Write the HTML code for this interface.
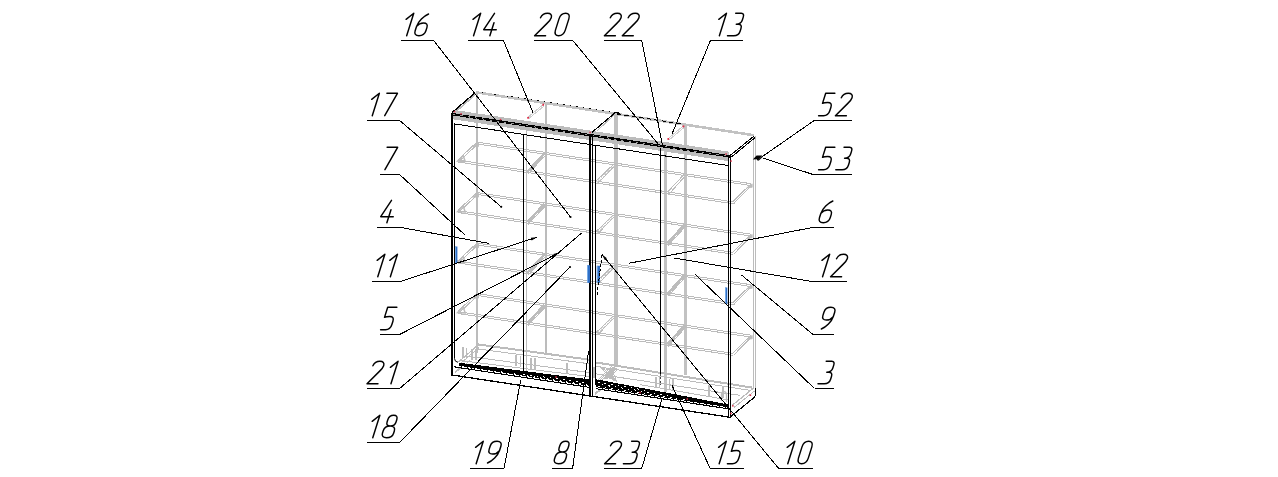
<!DOCTYPE html>
<html><head><meta charset="utf-8"><title>Assembly diagram</title>
<style>
html,body{margin:0;padding:0;background:#fff;font-family:"Liberation Sans",sans-serif;}
svg{display:block}
</style></head>
<body>
<svg width="1278" height="477" viewBox="0 0 1278 477">
<rect width="1278" height="477" fill="#fff"/>
<g stroke-linecap="butt" fill="none">
<line x1="476.00" y1="92.30" x2="754.00" y2="135.26" stroke="#c2c2c2" stroke-width="2.6" shape-rendering="crispEdges" />
<line x1="477.00" y1="92.50" x2="477.00" y2="353.00" stroke="#bcbcbc" stroke-width="2" shape-rendering="crispEdges" />
<line x1="546.00" y1="104.00" x2="546.00" y2="353.60" stroke="#bcbcbc" stroke-width="2" shape-rendering="crispEdges" />
<line x1="616.00" y1="112.60" x2="616.00" y2="367.00" stroke="#c0c0c0" stroke-width="4" shape-rendering="crispEdges" />
<line x1="665.50" y1="146.00" x2="665.50" y2="392.00" stroke="#c2c2c2" stroke-width="3" shape-rendering="crispEdges" />
<line x1="685.50" y1="125.50" x2="685.50" y2="375.00" stroke="#c2c2c2" stroke-width="3" shape-rendering="crispEdges" />
<line x1="753.50" y1="136.00" x2="753.50" y2="389.00" stroke="#bcbcbc" stroke-width="1" shape-rendering="crispEdges" />
<line x1="755.50" y1="136.00" x2="755.50" y2="389.00" stroke="#bcbcbc" stroke-width="1" shape-rendering="crispEdges" />
<line x1="526.50" y1="124.00" x2="526.50" y2="371.00" stroke="#bcbcbc" stroke-width="1" shape-rendering="crispEdges" />
<line x1="457.70" y1="160.03" x2="733.50" y2="201.95" stroke="#bcbcbc" stroke-width="1" shape-rendering="crispEdges" />
<line x1="476.90" y1="142.03" x2="751.20" y2="183.72" stroke="#bcbcbc" stroke-width="1" shape-rendering="crispEdges" />
<line x1="457.70" y1="161.93" x2="733.50" y2="203.85" stroke="#bcbcbc" stroke-width="1" shape-rendering="crispEdges" />
<line x1="476.90" y1="143.93" x2="751.20" y2="185.62" stroke="#bcbcbc" stroke-width="1" shape-rendering="crispEdges" />
<line x1="457.70" y1="160.03" x2="476.90" y2="142.03" stroke="#bcbcbc" stroke-width="1" shape-rendering="crispEdges" />
<line x1="459.50" y1="161.03" x2="477.90" y2="143.83" stroke="#bcbcbc" stroke-width="1" shape-rendering="crispEdges" />
<line x1="733.50" y1="203.85" x2="751.20" y2="185.62" stroke="#bcbcbc" stroke-width="1" shape-rendering="crispEdges" />
<line x1="731.70" y1="202.55" x2="750.60" y2="184.32" stroke="#bcbcbc" stroke-width="1" shape-rendering="crispEdges" />
<polygon points="457.7,161.0 463.2,155.6 465.2,161.4" fill="none" stroke="#bcbcbc" stroke-width="1.5"/>
<polygon points="472.4,146.6 478.4,142.8 478.4,146.6" fill="#bcbcbc" stroke="#bcbcbc" stroke-width="1"/>
<polygon points="746.7,187.9 752.2,183.9 752.2,187.3" fill="#bcbcbc" stroke="#bcbcbc" stroke-width="0.8"/>
<line x1="527.50" y1="171.64" x2="544.50" y2="153.50" stroke="#bcbcbc" stroke-width="2.6" shape-rendering="crispEdges" />
<line x1="528.00" y1="173.91" x2="545.00" y2="155.78" stroke="#bcbcbc" stroke-width="1" shape-rendering="crispEdges" />
<line x1="596.50" y1="180.63" x2="613.50" y2="164.39" stroke="#bcbcbc" stroke-width="1" shape-rendering="crispEdges" />
<line x1="597.50" y1="183.48" x2="614.00" y2="166.47" stroke="#bcbcbc" stroke-width="1" shape-rendering="crispEdges" />
<line x1="597.00" y1="182.10" x2="613.80" y2="165.44" stroke="#d6d6d6" stroke-width="1.6" shape-rendering="crispEdges" stroke-dasharray="1 1"/>
<line x1="667.50" y1="192.12" x2="684.00" y2="174.51" stroke="#bcbcbc" stroke-width="1" shape-rendering="crispEdges" />
<line x1="668.50" y1="194.67" x2="684.50" y2="176.78" stroke="#bcbcbc" stroke-width="1" shape-rendering="crispEdges" />
<line x1="457.70" y1="210.53" x2="733.50" y2="252.45" stroke="#bcbcbc" stroke-width="1" shape-rendering="crispEdges" />
<line x1="476.90" y1="192.53" x2="751.20" y2="234.22" stroke="#bcbcbc" stroke-width="1" shape-rendering="crispEdges" />
<line x1="457.70" y1="212.43" x2="733.50" y2="254.35" stroke="#bcbcbc" stroke-width="1" shape-rendering="crispEdges" />
<line x1="476.90" y1="194.43" x2="751.20" y2="236.12" stroke="#bcbcbc" stroke-width="1" shape-rendering="crispEdges" />
<line x1="457.70" y1="210.53" x2="476.90" y2="192.53" stroke="#bcbcbc" stroke-width="1" shape-rendering="crispEdges" />
<line x1="459.50" y1="211.53" x2="477.90" y2="194.33" stroke="#bcbcbc" stroke-width="1" shape-rendering="crispEdges" />
<line x1="733.50" y1="254.35" x2="751.20" y2="236.12" stroke="#bcbcbc" stroke-width="1" shape-rendering="crispEdges" />
<line x1="731.70" y1="253.05" x2="750.60" y2="234.82" stroke="#bcbcbc" stroke-width="1" shape-rendering="crispEdges" />
<polygon points="457.7,211.5 463.2,206.1 465.2,211.9" fill="none" stroke="#bcbcbc" stroke-width="1.5"/>
<polygon points="472.4,197.1 478.4,193.3 478.4,197.1" fill="#bcbcbc" stroke="#bcbcbc" stroke-width="1"/>
<polygon points="746.7,238.4 752.2,234.4 752.2,237.8" fill="#bcbcbc" stroke="#bcbcbc" stroke-width="0.8"/>
<line x1="527.50" y1="222.14" x2="544.50" y2="204.00" stroke="#bcbcbc" stroke-width="2.6" shape-rendering="crispEdges" />
<line x1="528.00" y1="224.41" x2="545.00" y2="206.28" stroke="#bcbcbc" stroke-width="1" shape-rendering="crispEdges" />
<line x1="596.50" y1="231.13" x2="613.50" y2="214.89" stroke="#bcbcbc" stroke-width="1" shape-rendering="crispEdges" />
<line x1="597.50" y1="233.98" x2="614.00" y2="216.97" stroke="#bcbcbc" stroke-width="1" shape-rendering="crispEdges" />
<line x1="597.00" y1="232.60" x2="613.80" y2="215.94" stroke="#d6d6d6" stroke-width="1.6" shape-rendering="crispEdges" stroke-dasharray="1 1"/>
<line x1="667.50" y1="243.42" x2="684.00" y2="225.21" stroke="#bcbcbc" stroke-width="2.6" shape-rendering="crispEdges" />
<line x1="668.00" y1="245.69" x2="684.50" y2="227.48" stroke="#bcbcbc" stroke-width="1" shape-rendering="crispEdges" />
<circle cx="684.5" cy="225.6" r="2" fill="#bcbcbc"/>
<circle cx="669" cy="243.6" r="1.6" fill="#bcbcbc"/>
<line x1="457.70" y1="261.03" x2="733.50" y2="302.95" stroke="#bcbcbc" stroke-width="1" shape-rendering="crispEdges" />
<line x1="476.90" y1="243.03" x2="751.20" y2="284.72" stroke="#bcbcbc" stroke-width="1" shape-rendering="crispEdges" />
<line x1="457.70" y1="262.93" x2="733.50" y2="304.85" stroke="#bcbcbc" stroke-width="1" shape-rendering="crispEdges" />
<line x1="476.90" y1="244.93" x2="751.20" y2="286.62" stroke="#bcbcbc" stroke-width="1" shape-rendering="crispEdges" />
<line x1="457.70" y1="261.03" x2="476.90" y2="243.03" stroke="#bcbcbc" stroke-width="1" shape-rendering="crispEdges" />
<line x1="459.50" y1="262.03" x2="477.90" y2="244.83" stroke="#bcbcbc" stroke-width="1" shape-rendering="crispEdges" />
<line x1="733.50" y1="304.85" x2="751.20" y2="286.62" stroke="#bcbcbc" stroke-width="1" shape-rendering="crispEdges" />
<line x1="731.70" y1="303.55" x2="750.60" y2="285.32" stroke="#bcbcbc" stroke-width="1" shape-rendering="crispEdges" />
<polygon points="457.7,262.0 463.2,256.6 465.2,262.4" fill="none" stroke="#bcbcbc" stroke-width="1.5"/>
<polygon points="472.4,247.6 478.4,243.8 478.4,247.6" fill="#bcbcbc" stroke="#bcbcbc" stroke-width="1"/>
<polygon points="746.7,288.9 752.2,284.9 752.2,288.3" fill="#bcbcbc" stroke="#bcbcbc" stroke-width="0.8"/>
<line x1="527.50" y1="272.64" x2="544.50" y2="254.50" stroke="#bcbcbc" stroke-width="2.6" shape-rendering="crispEdges" />
<line x1="528.00" y1="274.91" x2="545.00" y2="256.78" stroke="#bcbcbc" stroke-width="1" shape-rendering="crispEdges" />
<line x1="596.50" y1="281.63" x2="613.50" y2="265.39" stroke="#bcbcbc" stroke-width="1" shape-rendering="crispEdges" />
<line x1="597.50" y1="284.48" x2="614.00" y2="267.47" stroke="#bcbcbc" stroke-width="1" shape-rendering="crispEdges" />
<line x1="597.00" y1="283.10" x2="613.80" y2="266.44" stroke="#d6d6d6" stroke-width="1.6" shape-rendering="crispEdges" stroke-dasharray="1 1"/>
<line x1="667.50" y1="293.92" x2="684.00" y2="275.71" stroke="#bcbcbc" stroke-width="2.6" shape-rendering="crispEdges" />
<line x1="668.00" y1="296.19" x2="684.50" y2="277.98" stroke="#bcbcbc" stroke-width="1" shape-rendering="crispEdges" />
<circle cx="684.5" cy="276.1" r="2" fill="#bcbcbc"/>
<circle cx="669" cy="294.1" r="1.6" fill="#bcbcbc"/>
<line x1="457.70" y1="311.53" x2="733.50" y2="353.45" stroke="#bcbcbc" stroke-width="1" shape-rendering="crispEdges" />
<line x1="476.90" y1="293.53" x2="751.20" y2="335.22" stroke="#bcbcbc" stroke-width="1" shape-rendering="crispEdges" />
<line x1="457.70" y1="313.43" x2="733.50" y2="355.35" stroke="#bcbcbc" stroke-width="1" shape-rendering="crispEdges" />
<line x1="476.90" y1="295.43" x2="751.20" y2="337.12" stroke="#bcbcbc" stroke-width="1" shape-rendering="crispEdges" />
<line x1="457.70" y1="311.53" x2="476.90" y2="293.53" stroke="#bcbcbc" stroke-width="1" shape-rendering="crispEdges" />
<line x1="459.50" y1="312.53" x2="477.90" y2="295.33" stroke="#bcbcbc" stroke-width="1" shape-rendering="crispEdges" />
<line x1="733.50" y1="355.35" x2="751.20" y2="337.12" stroke="#bcbcbc" stroke-width="1" shape-rendering="crispEdges" />
<line x1="731.70" y1="354.05" x2="750.60" y2="335.82" stroke="#bcbcbc" stroke-width="1" shape-rendering="crispEdges" />
<polygon points="457.7,312.5 463.2,307.1 465.2,312.9" fill="none" stroke="#bcbcbc" stroke-width="1.5"/>
<polygon points="472.4,298.1 478.4,294.3 478.4,298.1" fill="#bcbcbc" stroke="#bcbcbc" stroke-width="1"/>
<polygon points="746.7,339.4 752.2,335.4 752.2,338.8" fill="#bcbcbc" stroke="#bcbcbc" stroke-width="0.8"/>
<line x1="527.50" y1="323.14" x2="544.50" y2="305.00" stroke="#bcbcbc" stroke-width="2.6" shape-rendering="crispEdges" />
<line x1="528.00" y1="325.41" x2="545.00" y2="307.28" stroke="#bcbcbc" stroke-width="1" shape-rendering="crispEdges" />
<line x1="596.50" y1="332.13" x2="613.50" y2="315.89" stroke="#bcbcbc" stroke-width="1" shape-rendering="crispEdges" />
<line x1="597.50" y1="334.98" x2="614.00" y2="317.97" stroke="#bcbcbc" stroke-width="1" shape-rendering="crispEdges" />
<line x1="597.00" y1="333.60" x2="613.80" y2="316.94" stroke="#d6d6d6" stroke-width="1.6" shape-rendering="crispEdges" stroke-dasharray="1 1"/>
<line x1="667.50" y1="344.42" x2="684.00" y2="326.21" stroke="#bcbcbc" stroke-width="2.6" shape-rendering="crispEdges" />
<line x1="668.00" y1="346.69" x2="684.50" y2="328.48" stroke="#bcbcbc" stroke-width="1" shape-rendering="crispEdges" />
<circle cx="684.5" cy="326.6" r="2" fill="#bcbcbc"/>
<circle cx="669" cy="344.6" r="1.6" fill="#bcbcbc"/>
<line x1="528.00" y1="117.20" x2="543.10" y2="104.70" stroke="#cfcfcf" stroke-width="1" shape-rendering="crispEdges" />
<line x1="529.00" y1="118.40" x2="544.00" y2="106.00" stroke="#cfcfcf" stroke-width="1" shape-rendering="crispEdges" />
<line x1="668.20" y1="138.50" x2="683.30" y2="126.00" stroke="#cfcfcf" stroke-width="1" shape-rendering="crispEdges" />
<line x1="669.20" y1="139.80" x2="684.20" y2="127.40" stroke="#cfcfcf" stroke-width="1" shape-rendering="crispEdges" />
<line x1="597.00" y1="131.00" x2="614.00" y2="115.00" stroke="#bcbcbc" stroke-width="1" shape-rendering="crispEdges" />
<line x1="453.50" y1="113.60" x2="476.00" y2="94.00" stroke="#bcbcbc" stroke-width="1.6" shape-rendering="crispEdges" />
<line x1="477.00" y1="344.30" x2="589.00" y2="359.66" stroke="#bcbcbc" stroke-width="2" shape-rendering="crispEdges" />
<line x1="596.00" y1="362.46" x2="752.00" y2="387.58" stroke="#bcbcbc" stroke-width="2" shape-rendering="crispEdges" />
<line x1="478.00" y1="349.00" x2="589.00" y2="363.73" stroke="#bcbcbc" stroke-width="1" shape-rendering="crispEdges" />
<line x1="596.00" y1="366.40" x2="750.00" y2="390.39" stroke="#bcbcbc" stroke-width="1" shape-rendering="crispEdges" />
<line x1="466.00" y1="356.06" x2="589.00" y2="372.54" stroke="#bcbcbc" stroke-width="1" shape-rendering="crispEdges" />
<line x1="596.00" y1="373.90" x2="740.00" y2="395.36" stroke="#bcbcbc" stroke-width="1" shape-rendering="crispEdges" />
<line x1="459.00" y1="360.43" x2="589.00" y2="376.53" stroke="#bcbcbc" stroke-width="1" shape-rendering="crispEdges" />
<line x1="640.00" y1="384.60" x2="728.00" y2="399.85" stroke="#bcbcbc" stroke-width="1" shape-rendering="crispEdges" />
<line x1="458.50" y1="362.00" x2="477.00" y2="346.00" stroke="#bcbcbc" stroke-width="1.2" shape-rendering="crispEdges" />
<line x1="460.50" y1="363.50" x2="479.00" y2="347.50" stroke="#bcbcbc" stroke-width="1" shape-rendering="crispEdges" />
<line x1="455.00" y1="372.00" x2="462.00" y2="366.00" stroke="#bcbcbc" stroke-width="1.2" shape-rendering="crispEdges" />
<line x1="732.00" y1="405.50" x2="753.00" y2="388.50" stroke="#bcbcbc" stroke-width="1.2" shape-rendering="crispEdges" />
<line x1="734.00" y1="407.50" x2="754.50" y2="391.00" stroke="#bcbcbc" stroke-width="1" shape-rendering="crispEdges" />
<line x1="463.00" y1="347.28" x2="463.00" y2="358.28" stroke="#bcbcbc" stroke-width="1.4" shape-rendering="crispEdges" />
<line x1="466.50" y1="347.81" x2="466.50" y2="358.81" stroke="#bcbcbc" stroke-width="1.4" shape-rendering="crispEdges" />
<line x1="472.00" y1="348.64" x2="472.00" y2="359.64" stroke="#bcbcbc" stroke-width="1.4" shape-rendering="crispEdges" />
<line x1="476.00" y1="349.25" x2="476.00" y2="360.25" stroke="#bcbcbc" stroke-width="1.4" shape-rendering="crispEdges" />
<line x1="516.00" y1="355.33" x2="516.00" y2="366.33" stroke="#bcbcbc" stroke-width="1.4" shape-rendering="crispEdges" />
<line x1="520.50" y1="356.02" x2="520.50" y2="367.02" stroke="#bcbcbc" stroke-width="1.4" shape-rendering="crispEdges" />
<line x1="531.00" y1="357.61" x2="531.00" y2="368.61" stroke="#bcbcbc" stroke-width="1.4" shape-rendering="crispEdges" />
<line x1="535.00" y1="358.22" x2="535.00" y2="369.22" stroke="#bcbcbc" stroke-width="1.4" shape-rendering="crispEdges" />
<line x1="567.00" y1="363.08" x2="567.00" y2="374.08" stroke="#bcbcbc" stroke-width="1.4" shape-rendering="crispEdges" />
<line x1="594.00" y1="367.19" x2="594.00" y2="378.19" stroke="#bcbcbc" stroke-width="1.4" shape-rendering="crispEdges" />
<line x1="656.00" y1="376.61" x2="656.00" y2="387.61" stroke="#bcbcbc" stroke-width="1.4" shape-rendering="crispEdges" />
<line x1="659.50" y1="377.14" x2="659.50" y2="388.14" stroke="#bcbcbc" stroke-width="1.4" shape-rendering="crispEdges" />
<line x1="669.50" y1="378.66" x2="669.50" y2="389.66" stroke="#bcbcbc" stroke-width="1.4" shape-rendering="crispEdges" />
<line x1="673.00" y1="379.20" x2="673.00" y2="390.20" stroke="#bcbcbc" stroke-width="1.4" shape-rendering="crispEdges" />
<line x1="709.00" y1="384.67" x2="709.00" y2="395.67" stroke="#bcbcbc" stroke-width="1.4" shape-rendering="crispEdges" />
<line x1="723.00" y1="386.80" x2="723.00" y2="397.80" stroke="#bcbcbc" stroke-width="1.4" shape-rendering="crispEdges" />
<line x1="598.00" y1="380.00" x2="612.00" y2="366.00" stroke="#bcbcbc" stroke-width="1" shape-rendering="crispEdges" />
<line x1="600.20" y1="379.70" x2="613.20" y2="366.60" stroke="#bcbcbc" stroke-width="1" shape-rendering="crispEdges" />
<line x1="602.40" y1="379.40" x2="614.40" y2="367.20" stroke="#bcbcbc" stroke-width="1" shape-rendering="crispEdges" />
<line x1="604.60" y1="379.10" x2="615.60" y2="367.80" stroke="#bcbcbc" stroke-width="1" shape-rendering="crispEdges" />
<line x1="606.80" y1="378.80" x2="616.80" y2="368.40" stroke="#bcbcbc" stroke-width="1" shape-rendering="crispEdges" />
<line x1="609.00" y1="378.50" x2="618.00" y2="369.00" stroke="#bcbcbc" stroke-width="1" shape-rendering="crispEdges" />
<line x1="600.00" y1="366.00" x2="611.00" y2="379.00" stroke="#bcbcbc" stroke-width="1" shape-rendering="crispEdges" />
<line x1="603.00" y1="367.00" x2="612.50" y2="379.80" stroke="#bcbcbc" stroke-width="1" shape-rendering="crispEdges" />
<line x1="606.00" y1="368.00" x2="614.00" y2="380.60" stroke="#bcbcbc" stroke-width="1" shape-rendering="crispEdges" />
<line x1="609.00" y1="369.00" x2="615.50" y2="381.40" stroke="#bcbcbc" stroke-width="1" shape-rendering="crispEdges" />
<line x1="612.00" y1="370.00" x2="617.00" y2="382.20" stroke="#bcbcbc" stroke-width="1" shape-rendering="crispEdges" />
<path d="M721.4,401 L721.4,395 C721.4,390.5 726.5,390.5 726.5,395 L726.5,402" stroke="#bcbcbc" stroke-width="1.3" fill="none"/>
<line x1="595.00" y1="394.00" x2="606.00" y2="385.00" stroke="#bcbcbc" stroke-width="2" shape-rendering="crispEdges" />
<line x1="455.50" y1="372.50" x2="470.00" y2="360.50" stroke="#bcbcbc" stroke-width="1" shape-rendering="crispEdges" />
</g>
<polygon shape-rendering="crispEdges" points="452.5,109.63 729,151.65 729,161.25 452.5,119.23" fill="#bcbcbc"/>
<g stroke-linecap="butt" fill="none">
<line x1="451.00" y1="114.00" x2="730.00" y2="156.41" stroke="#000" stroke-width="2.4" shape-rendering="crispEdges" />
<line x1="453.00" y1="114.50" x2="729.00" y2="156.45" stroke="#9a9a9a" stroke-width="1" shape-rendering="crispEdges" stroke-dasharray="2.2 5.2"/>
<line x1="454.00" y1="123.85" x2="728.60" y2="165.59" stroke="#000" stroke-width="1" shape-rendering="crispEdges" />
<line x1="482.00" y1="92.31" x2="508.00" y2="96.26" stroke="#000" stroke-width="1" shape-rendering="crispEdges" stroke-dasharray="1.5 11"/>
<line x1="511.00" y1="96.72" x2="614.00" y2="112.58" stroke="#000" stroke-width="1" shape-rendering="crispEdges" stroke-dasharray="1.5 5.1"/>
<line x1="617.00" y1="114.03" x2="684.00" y2="124.22" stroke="#000" stroke-width="1" shape-rendering="crispEdges" stroke-dasharray="4.5 3"/>
<line x1="452.00" y1="112.60" x2="475.40" y2="92.60" stroke="#000" stroke-width="1.3" shape-rendering="crispEdges" />
<line x1="591.60" y1="132.60" x2="615.30" y2="112.60" stroke="#000" stroke-width="1.2" shape-rendering="crispEdges" />
<line x1="615.00" y1="112.60" x2="620.00" y2="113.30" stroke="#000" stroke-width="1.2" shape-rendering="crispEdges" />
<line x1="730.00" y1="155.60" x2="754.20" y2="135.90" stroke="#000" stroke-width="1.1" shape-rendering="crispEdges" />
<line x1="731.40" y1="157.00" x2="755.00" y2="137.60" stroke="#000" stroke-width="1.1" shape-rendering="crispEdges" />
<line x1="452.00" y1="112.60" x2="452.00" y2="376.00" stroke="#000" stroke-width="2" shape-rendering="crispEdges" />
<path d="M454.5,123.5 L454.5,358.5 Q454.5,361.8 458,362.3" stroke="#000" stroke-width="1"/>
<line x1="590.00" y1="133.50" x2="590.00" y2="397.00" stroke="#000" stroke-width="2" shape-rendering="crispEdges" />
<line x1="592.50" y1="134.00" x2="592.50" y2="397.00" stroke="#000" stroke-width="1" shape-rendering="crispEdges" />
<line x1="595.50" y1="144.60" x2="595.50" y2="385.00" stroke="#000" stroke-width="1" shape-rendering="crispEdges" />
<line x1="728.50" y1="156.00" x2="728.50" y2="418.00" stroke="#000" stroke-width="1" shape-rendering="crispEdges" />
<line x1="730.50" y1="156.30" x2="730.50" y2="418.30" stroke="#000" stroke-width="1" shape-rendering="crispEdges" />
<line x1="523.50" y1="134.52" x2="523.50" y2="371.00" stroke="#000" stroke-width="1" shape-rendering="crispEdges" />
<line x1="660.50" y1="147.84" x2="660.50" y2="373.50" stroke="#000" stroke-width="1" shape-rendering="crispEdges" />
<line x1="660.50" y1="373.50" x2="660.50" y2="385.00" stroke="#444" stroke-width="1" shape-rendering="crispEdges" stroke-dasharray="2 1.5"/>
<line x1="451.00" y1="374.85" x2="731.00" y2="417.41" stroke="#000" stroke-width="1.3" shape-rendering="crispEdges" />
<line x1="731.20" y1="416.20" x2="755.40" y2="396.40" stroke="#000" stroke-width="1.2" shape-rendering="crispEdges" />
<line x1="755.40" y1="396.40" x2="755.40" y2="388.00" stroke="#000" stroke-width="1.2" shape-rendering="crispEdges" />
<polygon shape-rendering="crispEdges" points="458.5,362.63 589,379.33 589,387.89 454,367.37 454,366.17 458.5,366.65" fill="#000"/>
<polygon shape-rendering="crispEdges" points="596,379.22 727.7,404.37 727.7,409.27 596,389.25" fill="#000"/>
<line x1="455.00" y1="365.92" x2="589.00" y2="386.29" stroke="#fff" stroke-width="1" shape-rendering="crispEdges" stroke-dasharray="5.6 1"/>
<line x1="462.00" y1="365.98" x2="589.00" y2="385.29" stroke="#fff" stroke-width="1" shape-rendering="crispEdges" stroke-dasharray="1.8 4.8"/>
<line x1="520.00" y1="373.50" x2="589.00" y2="383.49" stroke="#fff" stroke-width="1" shape-rendering="crispEdges" stroke-dasharray="1.8 4.8" stroke-dashoffset="3"/>
<line x1="596.00" y1="387.65" x2="727.00" y2="407.56" stroke="#fff" stroke-width="1" shape-rendering="crispEdges" stroke-dasharray="5.6 1"/>
<line x1="598.00" y1="386.56" x2="688.00" y2="400.24" stroke="#fff" stroke-width="1" shape-rendering="crispEdges" stroke-dasharray="1.8 4.8"/>
<line x1="598.00" y1="384.16" x2="672.00" y2="396.00" stroke="#fff" stroke-width="1" shape-rendering="crispEdges" stroke-dasharray="1.8 4.8" stroke-dashoffset="3"/>
<line x1="598.00" y1="382.36" x2="650.00" y2="391.06" stroke="#fff" stroke-width="1" shape-rendering="crispEdges" stroke-dasharray="1.8 4.8"/>
</g>
<rect x="455" y="246.5" width="2.4" height="16.5" fill="#2f6fc6"/>
<rect x="455" y="246.5" width="0.9" height="16.5" fill="#7db0ea"/>
<rect x="587.0" y="265.2" width="3.0" height="17.6" fill="#2f6fc6"/>
<rect x="587.0" y="265.2" width="0.9" height="17.6" fill="#7db0ea"/>
<rect x="596.8" y="265.8" width="3.2" height="17.0" fill="#2f6fc6"/>
<rect x="596.8" y="265.8" width="0.9" height="17.0" fill="#7db0ea"/>
<rect x="725.0" y="287.5" width="2.3" height="16.5" fill="#2f6fc6"/>
<rect x="725.0" y="287.5" width="0.9" height="16.5" fill="#7db0ea"/>
<line x1="602.00" y1="255.00" x2="597.00" y2="295.00" stroke="#000" stroke-width="1.0" shape-rendering="crispEdges" stroke-dasharray="3 1.6"/>
<path d="M752.8,159.4 L756.6,155.4 L762.4,155.4 L759.0,159.2 L757.8,160.8 L756.6,159.2 Z" fill="#000"/>
<path d="M758.2,160.4 L762.2,156.6" stroke="#000" stroke-width="1.2"/>
<rect x="542.6" y="103.7" width="1.5" height="1.5" fill="#e0304a"/>
<rect x="527.5" y="116.9" width="1.5" height="1.5" fill="#e0304a"/>
<rect x="682.8" y="125.5" width="1.5" height="1.5" fill="#e0304a"/>
<rect x="667.7" y="138.1" width="1.5" height="1.5" fill="#e0304a"/>
<rect x="686.5" y="398.3" width="1.5" height="1.5" fill="#e0304a"/>
<rect x="453.8" y="110.9" width="1.5" height="1.5" fill="#e0304a"/>
<rect x="460.3" y="113.1" width="1.5" height="1.5" fill="#e0304a"/>
<rect x="499.8" y="118.8" width="1.5" height="1.5" fill="#e0304a"/>
<rect x="527.3" y="117.1" width="1.5" height="1.5" fill="#e0304a"/>
<rect x="542.4" y="104.3" width="1.5" height="1.5" fill="#e0304a"/>
<rect x="589.3" y="131.7" width="1.5" height="1.5" fill="#e0304a"/>
<rect x="667.5" y="138.3" width="1.5" height="1.5" fill="#e0304a"/>
<rect x="682.6" y="125.9" width="1.5" height="1.5" fill="#e0304a"/>
<rect x="725.3" y="153.3" width="1.5" height="1.5" fill="#e0304a"/>
<rect x="730.3" y="160.3" width="1.5" height="1.5" fill="#e0304a"/>
<rect x="749.7" y="394.5" width="1.5" height="1.5" fill="#e0304a"/>
<rect x="732.1" y="405.1" width="1.5" height="1.5" fill="#e0304a"/>
<rect x="730.2" y="412.7" width="1.5" height="1.5" fill="#e0304a"/>
<rect x="639.3" y="391.8" width="1.5" height="1.5" fill="#e0304a"/>
<rect x="555.3" y="376.3" width="1.5" height="1.5" fill="#e0304a"/>
<path d="M406.08,19.35 L413.76,13.30 L406.66,35.70" fill="none" stroke="#000" stroke-width="1.45" stroke-linecap="round" stroke-linejoin="round"/>
<path d="M428.55,13.97 C423.88,15.99 418.22,21.14 416.44,26.74 L415.16,30.77 C414.17,33.91 415.39,35.70 418.98,35.70 C422.56,35.70 424.92,33.91 425.91,30.77 L426.91,27.64 C427.90,24.50 426.61,22.93 423.47,22.93 C420.78,22.93 418.41,24.05 416.58,26.29" fill="none" stroke="#000" stroke-width="1.45" stroke-linecap="round" stroke-linejoin="round"/>
<line x1="401.20" y1="40.50" x2="433.70" y2="40.50" stroke="#000" stroke-width="1" shape-rendering="crispEdges" />
<polyline points="433.70,40.50 570.50,217.00" stroke="#000" stroke-width="1.0" fill="none" shape-rendering="crispEdges" />
<circle cx="570.50" cy="217.00" r="1.1" fill="#000"/>
<path d="M472.98,19.35 L480.66,13.30 L473.56,35.70" fill="none" stroke="#000" stroke-width="1.45" stroke-linecap="round" stroke-linejoin="round"/>
<path d="M494.50,13.30 L483.72,29.65 L496.26,29.65 M493.98,22.71 L489.86,35.70" fill="none" stroke="#000" stroke-width="1.45" stroke-linecap="round" stroke-linejoin="round"/>
<line x1="468.20" y1="40.50" x2="503.50" y2="40.50" stroke="#000" stroke-width="1" shape-rendering="crispEdges" />
<polyline points="503.50,40.50 533.00,112.70" stroke="#000" stroke-width="1.0" fill="none" shape-rendering="crispEdges" />
<path d="M540.50,17.78 C541.95,14.64 544.39,13.30 547.52,13.30 C550.66,13.30 552.18,14.87 551.26,17.78 C550.55,20.02 549.22,21.36 547.02,23.38 L534.60,35.70 L545.58,35.70" fill="none" stroke="#000" stroke-width="1.45" stroke-linecap="round" stroke-linejoin="round"/>
<path d="M559.00,18.90 C560.20,15.09 562.79,13.30 565.70,13.30 C568.61,13.30 570.06,15.09 568.85,18.90 L565.30,30.10 C564.10,33.91 561.51,35.70 558.60,35.70 C555.69,35.70 554.24,33.91 555.45,30.10 Z" fill="none" stroke="#000" stroke-width="1.45" stroke-linecap="round" stroke-linejoin="round"/>
<line x1="534.10" y1="40.50" x2="572.80" y2="40.50" stroke="#000" stroke-width="1" shape-rendering="crispEdges" />
<polyline points="572.80,40.50 659.20,145.20" stroke="#000" stroke-width="1.0" fill="none" shape-rendering="crispEdges" />
<path d="M610.30,17.78 C611.75,14.64 614.19,13.30 617.32,13.30 C620.46,13.30 621.98,14.87 621.06,17.78 C620.35,20.02 619.02,21.36 616.82,23.38 L604.40,35.70 L615.38,35.70" fill="none" stroke="#000" stroke-width="1.45" stroke-linecap="round" stroke-linejoin="round"/>
<path d="M628.20,17.78 C629.65,14.64 632.09,13.30 635.22,13.30 C638.36,13.30 639.88,14.87 638.96,17.78 C638.25,20.02 636.92,21.36 634.72,23.38 L622.30,35.70 L633.28,35.70" fill="none" stroke="#000" stroke-width="1.45" stroke-linecap="round" stroke-linejoin="round"/>
<line x1="604.20" y1="40.50" x2="641.70" y2="40.50" stroke="#000" stroke-width="1" shape-rendering="crispEdges" />
<polyline points="641.70,40.50 662.60,145.60" stroke="#000" stroke-width="1.0" fill="none" shape-rendering="crispEdges" />
<path d="M718.78,19.35 L726.46,13.30 L719.36,35.70" fill="none" stroke="#000" stroke-width="1.45" stroke-linecap="round" stroke-linejoin="round"/>
<path d="M735.72,13.30 L741.32,13.30 C743.56,13.30 743.96,14.87 743.25,17.11 L742.33,20.02 C741.47,22.71 739.63,24.28 736.27,24.28 L738.29,24.28 C740.98,24.28 741.82,25.84 740.97,28.53 L740.12,31.22 C739.20,34.13 736.91,35.70 733.77,35.70 L727.50,35.70" fill="none" stroke="#000" stroke-width="1.45" stroke-linecap="round" stroke-linejoin="round"/>
<line x1="710.40" y1="40.50" x2="742.90" y2="40.50" stroke="#000" stroke-width="1" shape-rendering="crispEdges" />
<polyline points="710.40,40.50 672.00,134.00" stroke="#000" stroke-width="1.0" fill="none" shape-rendering="crispEdges" />
<path d="M371.68,99.35 L379.36,93.30 L372.26,115.70" fill="none" stroke="#000" stroke-width="1.45" stroke-linecap="round" stroke-linejoin="round"/>
<path d="M386.90,93.30 L397.43,93.30 L384.73,115.70" fill="none" stroke="#000" stroke-width="1.45" stroke-linecap="round" stroke-linejoin="round"/>
<line x1="367.10" y1="120.50" x2="399.60" y2="120.50" stroke="#000" stroke-width="1" shape-rendering="crispEdges" />
<polyline points="399.60,120.50 501.20,206.80" stroke="#000" stroke-width="1.0" fill="none" shape-rendering="crispEdges" />
<circle cx="501.20" cy="206.80" r="1.1" fill="#000"/>
<path d="M387.10,147.30 L397.63,147.30 L384.93,169.70" fill="none" stroke="#000" stroke-width="1.45" stroke-linecap="round" stroke-linejoin="round"/>
<line x1="380.20" y1="174.50" x2="399.60" y2="174.50" stroke="#000" stroke-width="1" shape-rendering="crispEdges" />
<polyline points="399.60,174.50 464.50,234.60" stroke="#000" stroke-width="1.0" fill="none" shape-rendering="crispEdges" />
<path d="M391.50,200.30 L380.72,216.65 L393.26,216.65 M390.98,209.71 L386.86,222.70" fill="none" stroke="#000" stroke-width="1.45" stroke-linecap="round" stroke-linejoin="round"/>
<line x1="377.00" y1="227.50" x2="401.00" y2="227.50" stroke="#000" stroke-width="1" shape-rendering="crispEdges" />
<polyline points="401.00,227.50 489.00,243.40" stroke="#000" stroke-width="1.0" fill="none" shape-rendering="crispEdges" />
<path d="M377.18,260.35 L384.86,254.30 L377.76,276.70" fill="none" stroke="#000" stroke-width="1.45" stroke-linecap="round" stroke-linejoin="round"/>
<path d="M389.78,260.35 L397.46,254.30 L390.36,276.70" fill="none" stroke="#000" stroke-width="1.45" stroke-linecap="round" stroke-linejoin="round"/>
<line x1="372.00" y1="281.50" x2="400.20" y2="281.50" stroke="#000" stroke-width="1" shape-rendering="crispEdges" />
<polyline points="400.20,281.50 536.80,237.30" stroke="#000" stroke-width="1.0" fill="none" shape-rendering="crispEdges" />
<polygon points="536.80,237.30 531.69,240.45 530.82,237.74" fill="#000"/>
<path d="M396.88,307.30 L387.70,307.30 L384.51,317.38 C385.84,316.71 387.48,316.48 389.72,316.48 C392.85,316.48 393.92,318.05 392.93,321.19 L391.79,324.77 C390.80,327.91 388.66,329.70 385.53,329.70 L380.60,329.70" fill="none" stroke="#000" stroke-width="1.45" stroke-linecap="round" stroke-linejoin="round"/>
<line x1="380.00" y1="334.50" x2="399.60" y2="334.50" stroke="#000" stroke-width="1" shape-rendering="crispEdges" />
<polyline points="399.60,334.50 559.20,252.60" stroke="#000" stroke-width="1.0" fill="none" shape-rendering="crispEdges" />
<polygon points="559.20,252.60 554.67,256.53 553.36,253.99" fill="#000"/>
<path d="M372.90,365.78 C374.35,362.64 376.79,361.30 379.92,361.30 C383.06,361.30 384.58,362.87 383.66,365.78 C382.95,368.02 381.62,369.36 379.42,371.38 L367.00,383.70 L377.98,383.70" fill="none" stroke="#000" stroke-width="1.45" stroke-linecap="round" stroke-linejoin="round"/>
<path d="M390.38,367.35 L398.06,361.30 L390.96,383.70" fill="none" stroke="#000" stroke-width="1.45" stroke-linecap="round" stroke-linejoin="round"/>
<line x1="367.00" y1="388.50" x2="399.60" y2="388.50" stroke="#000" stroke-width="1" shape-rendering="crispEdges" />
<polyline points="399.60,388.50 581.80,232.90" stroke="#000" stroke-width="1.0" fill="none" shape-rendering="crispEdges" />
<path d="M372.18,421.35 L379.86,415.30 L372.76,437.70" fill="none" stroke="#000" stroke-width="1.45" stroke-linecap="round" stroke-linejoin="round"/>
<path d="M390.29,426.05 C387.38,426.05 386.24,424.71 387.09,422.02 L387.80,419.78 C388.72,416.87 390.79,415.30 393.70,415.30 C396.61,415.30 397.68,416.87 396.76,419.78 L396.05,422.02 C395.20,424.71 393.20,426.05 390.29,426.05 C386.93,426.05 384.12,427.84 383.13,430.98 L382.42,433.22 C381.50,436.13 383.24,437.70 386.60,437.70 C389.96,437.70 392.70,436.13 393.62,433.22 L394.33,430.98 C395.32,427.84 393.65,426.05 390.29,426.05" fill="none" stroke="#000" stroke-width="1.45" stroke-linecap="round" stroke-linejoin="round"/>
<line x1="367.00" y1="442.50" x2="399.60" y2="442.50" stroke="#000" stroke-width="1" shape-rendering="crispEdges" />
<polyline points="399.60,442.50 570.00,267.00" stroke="#000" stroke-width="1.0" fill="none" shape-rendering="crispEdges" />
<circle cx="570.00" cy="267.00" r="1.1" fill="#000"/>
<path d="M475.58,447.35 L483.26,441.30 L476.16,463.70" fill="none" stroke="#000" stroke-width="1.45" stroke-linecap="round" stroke-linejoin="round"/>
<path d="M499.47,450.71 C497.64,452.95 495.27,454.07 492.58,454.07 C489.45,454.07 488.15,452.50 489.14,449.36 L490.14,446.23 C491.13,443.09 493.49,441.30 497.08,441.30 C500.66,441.30 501.88,443.09 500.89,446.23 L499.61,450.26 C497.84,455.86 492.17,461.01 487.50,463.03" fill="none" stroke="#000" stroke-width="1.45" stroke-linecap="round" stroke-linejoin="round"/>
<line x1="470.20" y1="468.50" x2="504.00" y2="468.50" stroke="#000" stroke-width="1" shape-rendering="crispEdges" />
<polyline points="504.00,468.50 520.80,379.80" stroke="#000" stroke-width="1.0" fill="none" shape-rendering="crispEdges" />
<path d="M562.29,452.05 C559.38,452.05 558.24,450.71 559.09,448.02 L559.80,445.78 C560.72,442.87 562.79,441.30 565.70,441.30 C568.61,441.30 569.68,442.87 568.76,445.78 L568.05,448.02 C567.20,450.71 565.20,452.05 562.29,452.05 C558.93,452.05 556.12,453.84 555.13,456.98 L554.42,459.22 C553.50,462.13 555.24,463.70 558.60,463.70 C561.96,463.70 564.70,462.13 565.62,459.22 L566.33,456.98 C567.32,453.84 565.65,452.05 562.29,452.05" fill="none" stroke="#000" stroke-width="1.45" stroke-linecap="round" stroke-linejoin="round"/>
<line x1="552.30" y1="468.50" x2="572.60" y2="468.50" stroke="#000" stroke-width="1" shape-rendering="crispEdges" />
<polyline points="572.60,468.50 588.60,351.00" stroke="#000" stroke-width="1.0" fill="none" shape-rendering="crispEdges" />
<path d="M610.50,445.78 C611.95,442.64 614.39,441.30 617.52,441.30 C620.66,441.30 622.18,442.87 621.26,445.78 C620.55,448.02 619.22,449.36 617.02,451.38 L604.60,463.70 L615.58,463.70" fill="none" stroke="#000" stroke-width="1.45" stroke-linecap="round" stroke-linejoin="round"/>
<path d="M631.62,441.30 L637.22,441.30 C639.46,441.30 639.86,442.87 639.15,445.11 L638.23,448.02 C637.37,450.71 635.53,452.28 632.17,452.28 L634.19,452.28 C636.88,452.28 637.72,453.84 636.87,456.53 L636.02,459.22 C635.10,462.13 632.81,463.70 629.67,463.70 L623.40,463.70" fill="none" stroke="#000" stroke-width="1.45" stroke-linecap="round" stroke-linejoin="round"/>
<line x1="604.20" y1="468.50" x2="641.70" y2="468.50" stroke="#000" stroke-width="1" shape-rendering="crispEdges" />
<polyline points="641.70,468.50 662.20,398.00" stroke="#000" stroke-width="1.0" fill="none" shape-rendering="crispEdges" />
<path d="M718.58,447.35 L726.26,441.30 L719.16,463.70" fill="none" stroke="#000" stroke-width="1.45" stroke-linecap="round" stroke-linejoin="round"/>
<path d="M743.68,441.30 L734.50,441.30 L731.31,451.38 C732.64,450.71 734.28,450.48 736.52,450.48 C739.65,450.48 740.72,452.05 739.73,455.19 L738.59,458.77 C737.60,461.91 735.46,463.70 732.33,463.70 L727.40,463.70" fill="none" stroke="#000" stroke-width="1.45" stroke-linecap="round" stroke-linejoin="round"/>
<line x1="710.20" y1="468.50" x2="743.60" y2="468.50" stroke="#000" stroke-width="1" shape-rendering="crispEdges" />
<polyline points="710.20,468.50 672.00,385.40" stroke="#000" stroke-width="1.0" fill="none" shape-rendering="crispEdges" />
<path d="M787.18,447.35 L794.86,441.30 L787.76,463.70" fill="none" stroke="#000" stroke-width="1.45" stroke-linecap="round" stroke-linejoin="round"/>
<path d="M802.00,446.90 C803.20,443.09 805.79,441.30 808.70,441.30 C811.61,441.30 813.06,443.09 811.85,446.90 L808.30,458.10 C807.10,461.91 804.51,463.70 801.60,463.70 C798.69,463.70 797.24,461.91 798.45,458.10 Z" fill="none" stroke="#000" stroke-width="1.45" stroke-linecap="round" stroke-linejoin="round"/>
<line x1="778.70" y1="468.50" x2="813.40" y2="468.50" stroke="#000" stroke-width="1" shape-rendering="crispEdges" />
<polyline points="778.70,468.50 602.10,254.60" stroke="#000" stroke-width="1.0" fill="none" shape-rendering="crispEdges" />
<polygon points="602.10,254.60 606.91,258.19 604.71,260.00" fill="#000"/>
<path d="M834.88,93.30 L825.70,93.30 L822.51,103.38 C823.84,102.71 825.48,102.48 827.72,102.48 C830.85,102.48 831.92,104.05 830.93,107.19 L829.79,110.77 C828.80,113.91 826.66,115.70 823.53,115.70 L818.60,115.70" fill="none" stroke="#000" stroke-width="1.45" stroke-linecap="round" stroke-linejoin="round"/>
<path d="M841.30,97.78 C842.75,94.64 845.19,93.30 848.32,93.30 C851.46,93.30 852.98,94.87 852.06,97.78 C851.35,100.02 850.02,101.36 847.82,103.38 L835.40,115.70 L846.38,115.70" fill="none" stroke="#000" stroke-width="1.45" stroke-linecap="round" stroke-linejoin="round"/>
<line x1="814.20" y1="120.50" x2="851.90" y2="120.50" stroke="#000" stroke-width="1" shape-rendering="crispEdges" />
<polyline points="814.20,120.50 762.30,156.60" stroke="#000" stroke-width="1.0" fill="none" shape-rendering="crispEdges" />
<path d="M834.88,147.30 L825.70,147.30 L822.51,157.38 C823.84,156.71 825.48,156.48 827.72,156.48 C830.85,156.48 831.92,158.05 830.93,161.19 L829.79,164.77 C828.80,167.91 826.66,169.70 823.53,169.70 L818.60,169.70" fill="none" stroke="#000" stroke-width="1.45" stroke-linecap="round" stroke-linejoin="round"/>
<path d="M844.02,147.30 L849.62,147.30 C851.86,147.30 852.26,148.87 851.55,151.11 L850.63,154.02 C849.77,156.71 847.93,158.28 844.57,158.28 L846.59,158.28 C849.28,158.28 850.12,159.84 849.27,162.53 L848.42,165.22 C847.50,168.13 845.21,169.70 842.07,169.70 L835.80,169.70" fill="none" stroke="#000" stroke-width="1.45" stroke-linecap="round" stroke-linejoin="round"/>
<line x1="813.00" y1="174.50" x2="851.90" y2="174.50" stroke="#000" stroke-width="1" shape-rendering="crispEdges" />
<polyline points="813.00,174.50 763.00,158.00" stroke="#000" stroke-width="1.0" fill="none" shape-rendering="crispEdges" />
<path d="M832.85,200.97 C828.18,202.99 822.52,208.14 820.74,213.74 L819.46,217.77 C818.47,220.91 819.69,222.70 823.28,222.70 C826.86,222.70 829.22,220.91 830.21,217.77 L831.21,214.64 C832.20,211.50 830.91,209.93 827.77,209.93 C825.08,209.93 822.71,211.05 820.88,213.29" fill="none" stroke="#000" stroke-width="1.45" stroke-linecap="round" stroke-linejoin="round"/>
<line x1="812.40" y1="227.50" x2="833.80" y2="227.50" stroke="#000" stroke-width="1" shape-rendering="crispEdges" />
<polyline points="812.40,227.50 629.40,263.20" stroke="#000" stroke-width="1.0" fill="none" shape-rendering="crispEdges" />
<path d="M821.98,260.35 L829.66,254.30 L822.56,276.70" fill="none" stroke="#000" stroke-width="1.45" stroke-linecap="round" stroke-linejoin="round"/>
<path d="M836.50,258.78 C837.95,255.64 840.39,254.30 843.52,254.30 C846.66,254.30 848.18,255.87 847.26,258.78 C846.55,261.02 845.22,262.36 843.02,264.38 L830.60,276.70 L841.58,276.70" fill="none" stroke="#000" stroke-width="1.45" stroke-linecap="round" stroke-linejoin="round"/>
<line x1="812.00" y1="281.50" x2="847.20" y2="281.50" stroke="#000" stroke-width="1" shape-rendering="crispEdges" />
<polyline points="812.00,281.50 674.20,258.00" stroke="#000" stroke-width="1.0" fill="none" shape-rendering="crispEdges" />
<path d="M833.27,316.71 C831.44,318.95 829.07,320.07 826.38,320.07 C823.25,320.07 821.95,318.50 822.94,315.36 L823.94,312.23 C824.93,309.09 827.29,307.30 830.88,307.30 C834.46,307.30 835.68,309.09 834.69,312.23 L833.41,316.26 C831.64,321.86 825.97,327.01 821.30,329.03" fill="none" stroke="#000" stroke-width="1.45" stroke-linecap="round" stroke-linejoin="round"/>
<line x1="813.00" y1="334.50" x2="834.00" y2="334.50" stroke="#000" stroke-width="1" shape-rendering="crispEdges" />
<polyline points="813.00,334.50 741.50,275.00" stroke="#000" stroke-width="1.0" fill="none" shape-rendering="crispEdges" />
<path d="M826.22,361.30 L831.82,361.30 C834.06,361.30 834.46,362.87 833.75,365.11 L832.83,368.02 C831.97,370.71 830.13,372.28 826.77,372.28 L828.79,372.28 C831.48,372.28 832.32,373.84 831.47,376.53 L830.62,379.22 C829.70,382.13 827.41,383.70 824.27,383.70 L818.00,383.70" fill="none" stroke="#000" stroke-width="1.45" stroke-linecap="round" stroke-linejoin="round"/>
<line x1="814.50" y1="388.50" x2="834.00" y2="388.50" stroke="#000" stroke-width="1" shape-rendering="crispEdges" />
<polyline points="814.50,388.50 695.20,274.40" stroke="#000" stroke-width="1.0" fill="none" shape-rendering="crispEdges" />
</svg>
</body></html>
